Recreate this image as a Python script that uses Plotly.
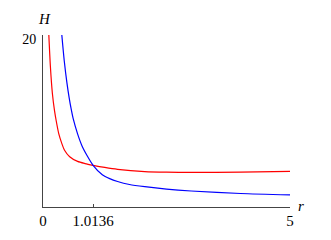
import plotly.graph_objects as go

# Data
red_r = [0.118, 0.15, 0.19, 0.233, 0.268, 0.32, 0.38, 0.436, 0.54, 0.7, 0.85, 1.0136,
         1.25, 1.51, 2.06, 2.5, 2.96, 4.0, 5.0]
red_H = [20, 16.3, 13.2, 11.2, 10.0, 8.5, 7.4, 6.6, 5.85, 5.3, 5.05, 4.85,
         4.6, 4.38, 4.12, 4.05, 4.03, 4.05, 4.15]

blue_r = [0.381, 0.43, 0.483, 0.53, 0.57, 0.61, 0.70, 0.79, 0.9, 1.0136, 1.2, 1.35,
          1.51, 1.75, 2.06, 2.5, 3.0, 4.0, 5.0]
blue_H = [20, 17.0, 14.5, 12.7, 11.4, 10.3, 8.5, 7.1, 5.9, 4.85, 3.75, 3.3,
          2.97, 2.62, 2.36, 2.08, 1.86, 1.57, 1.40]

x_ticks = [0, 1.0136, 5]
x_tick_labels = ["0", "1.0136", "5"]
y_ticks = [20]
y_tick_labels = ["20"]

serif = "Liberation Serif, Times New Roman, serif"

fig = go.Figure()
fig.add_trace(go.Scatter(x=red_r, y=red_H, mode="lines",
                         line=dict(color="#ff0000", width=1.2, shape="spline", smoothing=0.7)))
fig.add_trace(go.Scatter(x=blue_r, y=blue_H, mode="lines",
                         line=dict(color="#0000ff", width=1.2, shape="spline", smoothing=0.7)))

# the page body has an 8px default margin, so the figure is sized to fit the window
fig.update_layout(
    width=323, height=232,
    margin=dict(l=35, r=41, t=27, b=33, pad=0),
    paper_bgcolor="white", plot_bgcolor="white",
    showlegend=False,
    font=dict(family=serif, size=13, color="black"),
    xaxis=dict(range=[0, 5], tickvals=x_ticks, ticktext=x_tick_labels,
               showgrid=False, zeroline=False, showline=True, linecolor="#444",
               linewidth=1, ticks="inside", ticklen=3, tickcolor="#444",
               tickfont=dict(family=serif, size=15)),
    yaxis=dict(range=[0, 20], tickvals=y_ticks, ticktext=y_tick_labels,
               showgrid=False, zeroline=False, showline=True, linecolor="#444",
               linewidth=1, ticks="inside", ticklen=3, tickcolor="#444",
               ticklabelshift=4, ticklabelstandoff=3,
               tickfont=dict(family=serif, size=14)),
    annotations=[
        dict(text="<i>H</i>", x=0, y=1, xref="x domain", yref="paper", yanchor="middle",
             xanchor="center", showarrow=False, xshift=1.5, yshift=16,
             font=dict(family=serif, size=15)),
        dict(text="<i>r</i>", x=1, y=0, xref="paper", yref="paper", xanchor="left",
             yanchor="middle", showarrow=False, xshift=6, yshift=1,
             font=dict(family=serif, size=15)),
    ],
)

fig.write_html("out.html")
